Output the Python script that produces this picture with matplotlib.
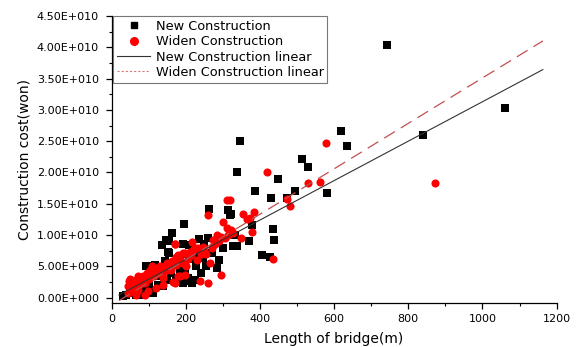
import matplotlib
matplotlib.use("Agg")
import matplotlib.pyplot as plt
from matplotlib.lines import Line2D
from matplotlib.ticker import FuncFormatter, MultipleLocator
import numpy as np

plt.rcParams['font.family'] = ['DejaVu Sans']
plt.rcParams['lines.scale_dashes'] = False

# ---- data (length in m, cost in 1e10 won) ----
new_len = [742, 1060, 839, 619, 634, 514, 531, 449, 386, 430, 472, 495, 580, 346, 339,
           380, 435, 438, 371, 405, 427, 323, 332, 328, 339, 263, 314, 319, 195, 164,
           148, 209, 236, 270, 247, 227, 283, 216, 207, 139, 180, 153, 135, 156, 192,
           116, 102, 197, 192, 30, 80, 111, 155, 144, 285, 211, 94,
           60, 70, 90, 120, 130, 50, 40, 100, 160, 170, 230, 250, 260, 290, 300, 280,
           220, 240, 175, 125, 85, 65, 150, 185, 200, 225, 255]
new_cost = [4.04, 3.03, 2.60, 2.67, 2.42, 2.22, 2.09, 1.89, 1.70, 1.59, 1.60, 1.70, 1.68, 2.50, 2.00,
            1.16, 1.09, 0.92, 0.91, 0.68, 0.65, 1.33, 1.00, 0.83, 0.83, 1.42, 1.40, 1.32, 1.17, 1.03,
            0.92, 0.84, 0.93, 0.71, 0.63, 0.50, 0.48, 0.23, 0.32, 0.18, 0.60, 0.73, 0.84, 0.71, 0.86,
            0.52, 0.50, 0.39, 0.23, 0.02, 0.04, 0.07, 0.91, 0.59, 0.47, 0.26, 0.51,
            0.15, 0.25, 0.30, 0.35, 0.45, 0.08, 0.05, 0.20, 0.40, 0.55, 0.70, 0.85, 0.95, 0.60, 0.80, 0.90,
            0.62, 0.40, 0.30, 0.20, 0.12, 0.05, 0.28, 0.45, 0.70, 0.28, 0.50]

widen_len = [579, 419, 529, 561, 474, 480, 384, 380, 372, 435, 873, 355, 364, 323, 328,
             350, 319, 310, 259, 301, 310, 323, 296, 274, 171, 216, 247, 220, 296, 260,
             238, 198, 184, 166, 139, 148, 162, 175, 193, 211, 224, 233, 265, 170, 179,
             197, 125, 138, 156, 174, 179, 170, 84, 89, 71, 98, 48, 44, 44, 57, 108,
             50, 55, 60, 65, 70, 75, 80, 95, 100, 105, 110, 115, 120, 130, 135, 145, 150,
             160, 185, 190, 205, 215, 230, 240, 250, 200, 280, 290, 285, 305, 315, 270,
             255, 65, 50, 90, 120, 140]
widen_cost = [2.47, 2.01, 1.83, 1.85, 1.57, 1.47, 1.37, 1.05, 1.27, 0.61, 1.84, 1.33, 1.25, 1.08, 1.03,
              0.95, 1.56, 1.56, 1.32, 1.21, 1.11, 1.05, 0.97, 0.92, 0.85, 0.89, 0.81, 0.76, 0.36, 0.23,
              0.27, 0.36, 0.34, 0.25, 0.31, 0.50, 0.58, 0.65, 0.71, 0.73, 0.79, 0.79, 0.55, 0.86, 0.68,
              0.71, 0.39, 0.44, 0.47, 0.52, 0.34, 0.23, 0.34, 0.23, 0.12, 0.10, 0.26, 0.18, 0.07, 0.10, 0.51,
              0.30, 0.22, 0.15, 0.28, 0.35, 0.20, 0.30, 0.40, 0.30, 0.45, 0.40, 0.35, 0.48, 0.50, 0.38, 0.42, 0.55,
              0.45, 0.60, 0.55, 0.62, 0.68, 0.60, 0.70, 0.75, 0.50, 0.85, 0.90, 1.00, 0.95, 1.00, 0.80,
              0.70, 0.05, 0.12, 0.05, 0.15, 0.20]

# linear fits (slope per m, intercept) in 1e10 won
new_fit = (0.00315, -0.02)
widen_fit = (0.00363, -0.12)
fit_range = (20, 1163)

SCALE = 1e10

fig = plt.figure(figsize=(5.81, 3.47), dpi=100)
ax = fig.add_axes([0.192, 0.1277, 0.766, 0.8262])

ax.scatter(new_len, np.array(new_cost) * SCALE, marker='s', s=26, color='black',
           linewidths=0, zorder=3)
ax.scatter(widen_len, np.array(widen_cost) * SCALE, marker='o', s=34, color='#ff0000',
           linewidths=0, zorder=4)

xs = np.array(fit_range, dtype=float)
ax.plot(xs, (new_fit[0] * xs + new_fit[1]) * SCALE, color='#333333', lw=0.8, zorder=5)
ax.plot(xs, (widen_fit[0] * xs + widen_fit[1]) * SCALE, color='#c05050', lw=0.9,
        dashes=(9, 5), zorder=5)

ax.set_xlim(0, 1200)
ax.set_ylim(-0.08e10, 4.5e10)

for s in ['top', 'right']:
    ax.spines[s].set_visible(False)
for s in ['left', 'bottom']:
    ax.spines[s].set_linewidth(0.9)

ax.xaxis.set_major_locator(MultipleLocator(200))
ax.xaxis.set_minor_locator(MultipleLocator(100))
ax.yaxis.set_major_locator(MultipleLocator(0.5e10))
ax.yaxis.set_minor_locator(MultipleLocator(0.25e10))

def yfmt(v, pos):
    if abs(v) < 1:
        return "0.00E+000"
    e = int(np.floor(np.log10(abs(v))))
    m = v / 10 ** e
    return f"{m:.2f}E+{e:03d}"

ax.yaxis.set_major_formatter(FuncFormatter(yfmt))
ax.tick_params(which='major', direction='out', length=4, width=0.9, labelsize=8)
ax.tick_params(axis='y', which='major', pad=5)
ax.tick_params(axis='x', which='major', pad=4)
ax.tick_params(which='minor', direction='out', length=2.5, width=0.8)

ax.set_xlabel('Length of bridge(m)', fontsize=10, labelpad=6)
ax.set_ylabel('Construction cost(won)', fontsize=10, labelpad=4)

handles = [
    Line2D([], [], marker='s', color='black', linestyle='none', markersize=5),
    Line2D([], [], marker='o', color='#ff0000', linestyle='none', markersize=5.5),
    Line2D([], [], color='#333333', lw=0.8),
    Line2D([], [], color='#e07070', lw=0.8, dashes=(1.5, 1.5)),
]
labels = ['New Construction', 'Widen Construction', 'New Construction linear',
          'Widen Construction linear']
leg = ax.legend(handles, labels, loc='upper left', bbox_to_anchor=(0.003, 1.0),
                borderaxespad=0, fontsize=9.3, frameon=True, fancybox=False,
                edgecolor='#555555', handlelength=2.6, handletextpad=0.4,
                labelspacing=0.18, borderpad=0.3)
leg.get_frame().set_linewidth(0.8)

fig.savefig('out.png', dpi=100)
